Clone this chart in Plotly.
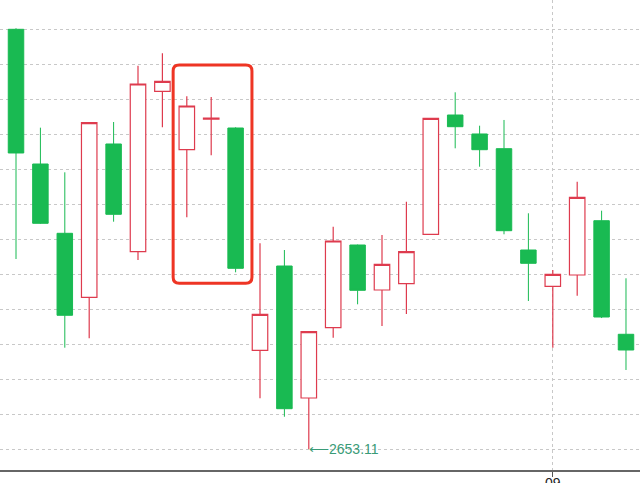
import plotly.graph_objects as go

# ---- data ----
idx = list(range(26))
opens = [2773.0, 2734.51, 2714.71, 2696.43, 2740.23, 2709.46, 2755.29, 2738.6, 2747.3, 2744.8,
         2681.29, 2705.37, 2667.66, 2687.74, 2711.37, 2698.51, 2700.31, 2714.43, 2748.51, 2743.09,
         2738.89, 2709.94, 2699.57, 2702.8, 2718.31, 2685.86]
highs = [2773.3, 2744.89, 2732.14, 2746.31, 2746.51, 2762.6, 2766.14, 2753.86, 2753.66, 2745.0,
         2711.86, 2709.94, 2686.6, 2716.6, 2711.5, 2714.23, 2723.74, 2747.57, 2755.0, 2745.46,
         2747.09, 2720.43, 2704.23, 2729.46, 2721.17, 2701.86]
lows = [2707.37, 2717.4, 2682.03, 2684.71, 2718.03, 2707.09, 2745.0, 2719.29, 2737.0, 2703.57,
        2667.57, 2662.31, 2653.11, 2684.89, 2694.43, 2688.23, 2691.66, 2714.43, 2739.0, 2733.74,
        2714.43, 2695.37, 2682.03, 2696.89, 2690.5, 2675.66]
closes = [2737.66, 2717.57, 2691.29, 2746.31, 2720.14, 2757.37, 2758.14, 2751.09, 2747.6, 2704.71,
          2691.57, 2664.6, 2686.6, 2712.51, 2698.43, 2705.86, 2709.46, 2747.57, 2745.17, 2738.6,
          2715.46, 2706.14, 2703.0, 2725.0, 2690.8, 2681.37]
tick_positions = [22]
tick_labels = ["09"]
low_label_index = 12
low_value = 2653.11
# highlight box (candle index span and price span)
hl_x = [6.44, 9.67]
hl_y = [2700.43, 2762.8]

RED = "#DE3B4E"
GREEN = "#19BA52"

fig = go.Figure()
fig.add_trace(go.Candlestick(
    x=idx, open=opens, high=highs, low=lows, close=closes,
    increasing=dict(line=dict(color=RED, width=1.2), fillcolor="white"),
    decreasing=dict(line=dict(color=GREEN, width=1), fillcolor=GREEN),
    whiskerwidth=0, showlegend=False, hoverinfo="skip",
))

# rounded highlight rectangle
x0, x1 = hl_x
y0, y1 = hl_y
rx, ry = 0.25, 1.7
path = (f"M {x0+rx},{y1} L {x1-rx},{y1} Q {x1},{y1} {x1},{y1-ry} "
        f"L {x1},{y0+ry} Q {x1},{y0} {x1-rx},{y0} L {x0+rx},{y0} "
        f"Q {x0},{y0} {x0},{y0+ry} L {x0},{y1-ry} Q {x0},{y1} {x0+rx},{y1} Z")
fig.add_shape(type="path", path=path, xref="x", yref="y",
              line=dict(color="#EE3524", width=3))

fig.add_annotation(x=low_label_index, y=low_value, text="\u27f52653.11",
                   showarrow=False, xanchor="left", yanchor="middle", xshift=-2,
                   font=dict(size=14, color="#3A9B77", family="Liberation Sans, Arial"))

fig.update_layout(
    width=640, height=483,
    margin=dict(l=0, r=0, t=0, b=13),
    paper_bgcolor="white", plot_bgcolor="white",
    boxgap=0.365, boxgroupgap=0,
    font=dict(family="Liberation Sans, Arial", size=14, color="#222"),
    xaxis=dict(
        range=[-0.656, 25.574], rangeslider=dict(visible=False),
        tickvals=tick_positions, ticktext=tick_labels, automargin=False,
        showgrid=True, gridcolor="#c8c8c8", griddash="dot", gridwidth=1,
        showline=True, linecolor="#666", linewidth=1.5,
        ticks="outside", ticklen=5, tickcolor="#555", zeroline=False,
        ticklabelstandoff=-6,
    ),
    yaxis=dict(
        range=[2647.086, 2781.371], tick0=2653, dtick=10, automargin=False,
        showticklabels=False, ticks="",
        showgrid=True, gridcolor="#c8c8c8", griddash="dot", gridwidth=1,
        zeroline=False, showline=False,
    ),
)

fig.write_html("out.html", config={"displayModeBar": False},
               post_script="document.body.style.margin='0';")
